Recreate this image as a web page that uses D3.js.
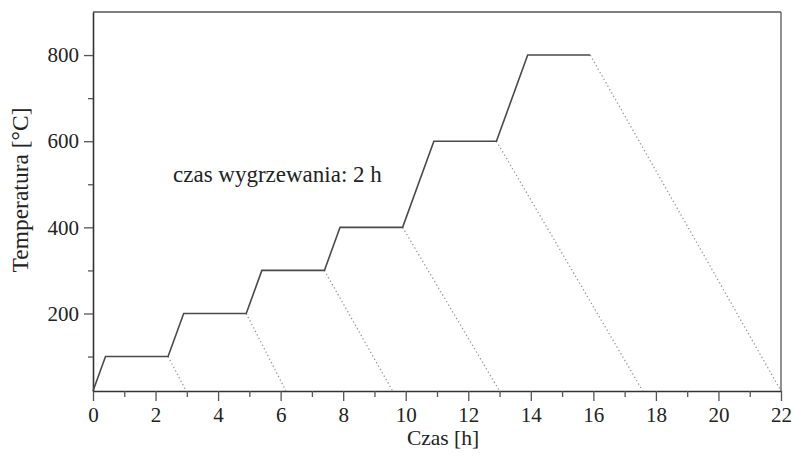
<!DOCTYPE html>
<html>
<head>
<meta charset="utf-8">
<script src="https://cdn.jsdelivr.net/npm/d3@7"></script>
<style>
  html, body { margin: 0; padding: 0; background: #fff; }
  svg text { font-family: "Liberation Serif", "DejaVu Serif", serif; fill: #222; }
</style>
</head>
<body>
<svg id="chart" width="793" height="458"></svg>
<script>
// Heating schedule: time [h] and temperature [°C] of the solid heating/soaking curve
const heatTime = [0, 0.4, 2.4, 2.9, 4.9, 5.4, 7.4, 7.9, 9.9, 10.9, 12.9, 13.9, 15.9];
const heatTemp = [20, 100, 100, 200, 200, 300, 300, 400, 400, 600, 600, 800, 800];

// Cooling branches (dotted): start time, start temperature, end time at room temperature
const coolStartTime = [2.4, 4.9, 7.4, 9.9, 12.9, 15.9];
const coolStartTemp = [100, 200, 300, 400, 600, 800];
const coolEndTime = [2.98, 6.17, 9.58, 13.0, 17.58, 22.0];
const roomTemp = 20;

// Axis ticks
const xTicks = [0, 2, 4, 6, 8, 10, 12, 14, 16, 18, 20, 22];
const xMinorTicks = [1, 3, 5, 7, 9, 11, 13, 15, 17, 19, 21];
const yTicks = [200, 400, 600, 800];
const yMinorTicks = [100, 300, 500, 700];

const xLabel = "Czas [h]";
const yLabel = "Temperatura [°C]";
const note = "czas wygrzewania: 2 h";

const svg = d3.select("#chart");
const plotLeft = 93, plotRight = 781, plotTop = 12, plotBottom = 391;

const x = d3.scaleLinear().domain([0, 22]).range([plotLeft, plotRight]);
const y = d3.scaleLinear().domain([20, 900]).range([plotBottom, plotTop]);

const axisColor = "#333";

// Frame: top and right borders
svg.append("line").attr("x1", plotLeft).attr("x2", plotRight).attr("y1", plotTop).attr("y2", plotTop)
  .attr("stroke", "#555").attr("stroke-width", 1.3);
svg.append("line").attr("x1", plotRight).attr("x2", plotRight).attr("y1", plotTop).attr("y2", plotBottom)
  .attr("stroke", "#555").attr("stroke-width", 1.3);

// X axis
const gx = svg.append("g").attr("transform", `translate(0,${plotBottom})`);
gx.call(d3.axisBottom(x).tickValues(xTicks).tickSize(10).tickSizeOuter(0).tickPadding(6).tickFormat(d3.format("d")));
gx.append("g").call(d3.axisBottom(x).tickValues(xMinorTicks).tickSize(6).tickSizeOuter(0).tickFormat(""))
  .select(".domain").remove();

// Y axis
const gy = svg.append("g").attr("transform", `translate(${plotLeft},0)`);
gy.call(d3.axisLeft(y).tickValues(yTicks).tickSize(9).tickSizeOuter(0).tickPadding(5).tickFormat(d3.format("d")));
gy.append("g").call(d3.axisLeft(y).tickValues(yMinorTicks).tickSize(5).tickSizeOuter(0).tickFormat(""))
  .select(".domain").remove();

svg.selectAll(".domain").attr("stroke", axisColor).attr("stroke-width", 1.6);
svg.selectAll(".tick line").attr("stroke", "#555").attr("stroke-width", 1.3);
svg.selectAll(".tick text").attr("font-family", "Liberation Serif").attr("font-size", 21).attr("fill", "#222");

// Cooling branches (dotted)
const coolData = coolStartTime.map((t, i) => [[t, coolStartTemp[i]], [coolEndTime[i], roomTemp]]);
const line = d3.line().x(d => x(d[0])).y(d => y(d[1]));
svg.append("g").selectAll("path").data(coolData).join("path")
  .attr("d", line)
  .attr("fill", "none")
  .attr("stroke", "#999")
  .attr("stroke-width", 1.3)
  .attr("stroke-dasharray", "1.3,2.6");

// Heating and soaking curve
const heatData = heatTime.map((t, i) => [t, heatTemp[i]]);
svg.append("path")
  .datum(heatData)
  .attr("d", line)
  .attr("fill", "none")
  .attr("stroke", "#4a4a4a")
  .attr("stroke-width", 1.6)
  .attr("stroke-linejoin", "miter");

// Labels
svg.append("text")
  .attr("x", 443).attr("y", 445)
  .attr("text-anchor", "middle").attr("font-size", 21.5)
  .text(xLabel);

svg.append("text")
  .attr("transform", `translate(28,${190}) rotate(-90)`)
  .attr("text-anchor", "middle").attr("font-size", 23.5)
  .text(yLabel);

svg.append("text")
  .attr("x", 173).attr("y", 182)
  .attr("font-size", 23)
  .text(note);
</script>
</body>
</html>
